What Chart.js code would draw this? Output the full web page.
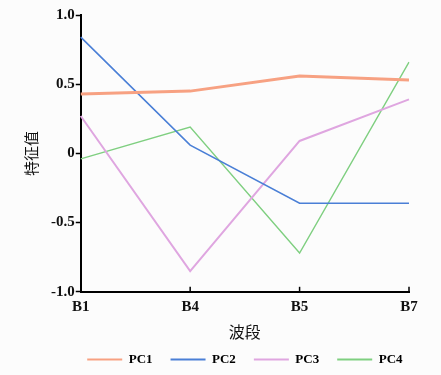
<!DOCTYPE html>
<html><head><meta charset="utf-8">
<script src="https://cdn.jsdelivr.net/npm/chart.js@4"></script>
<style>html,body{margin:0;padding:0;background:#fcfcfc;}#wrap{width:441px;height:375px;}</style>
</head><body><div id="wrap"><canvas id="c" width="441" height="375"></canvas></div>
<script>
const categories = ['B1','B4','B5','B7'];
const seriesNames = ['PC1','PC2','PC3','PC4'];
const pc1 = [0.43, 0.45, 0.56, 0.53];
const pc2 = [0.84, 0.06, -0.36, -0.36];
const pc3 = [0.27, -0.85, 0.09, 0.39];
const pc4 = [-0.04, 0.19, -0.72, 0.66];
const yTickValues = [-1.0, -0.5, 0, 0.5, 1.0];
const yTickLabels = ['-1.0', '-0.5', '0', '0.5', '1.0'];
const xTitle = '波段';
const yTitle = '特征值';

const colors = ['#f7a182', '#4a7fd6', '#dfa6e0', '#7fcf80'];
const widths = [3, 1.6, 2, 1.4];
const serif = '"Liberation Serif", "Times New Roman", serif';
const cjk = '"Noto Sans CJK SC", sans-serif';

const xTicksInside = {
  id: 'xTicksInside',
  afterDatasetsDraw(chart) {
    const x = chart.scales.x, ctx = chart.ctx;
    const yb = chart.chartArea.bottom;
    ctx.save();
    ctx.strokeStyle = '#000';
    ctx.lineWidth = 1.5;
    for (let i = 1; i < categories.length; i++) {
      const px = x.getPixelForTick(i);
      ctx.beginPath();
      ctx.moveTo(px, yb);
      ctx.lineTo(px, yb - 5);
      ctx.stroke();
    }
    ctx.restore();
  }
};

// center the legend under the plot area rather than the whole canvas
const legendShift = {
  id: 'legendShift',
  afterLayout(chart) {
    const lg = chart.legend;
    if (!lg) return;
    const ca = chart.chartArea;
    const d = (ca.left + ca.right) / 2 - (lg.left + lg.right) / 2;
    lg.left += d; lg.right += d;
  }
};

new Chart(document.getElementById('c'), {
  type: 'line',
  data: {
    labels: categories,
    datasets: [pc1, pc2, pc3, pc4].map((d, i) => ({
      label: seriesNames[i],
      data: d,
      borderColor: colors[i],
      backgroundColor: colors[i],
      borderWidth: widths[i],
      pointRadius: 0,
      tension: 0,
      fill: false
    }))
  },
  options: {
    responsive: false,
    animation: false,
    layout: { padding: { left: 22, right: 32, top: 15, bottom: -1 } },
    plugins: {
      legend: {
        position: 'bottom',
        fullSize: true,
        labels: {
          boxWidth: 35,
          boxHeight: 2,
          padding: 18,
          color: '#111',
          font: { family: serif, size: 13, weight: 'bold' },
          generateLabels(chart) {
            return chart.data.datasets.map((ds, i) => ({
              text: ds.label,
              fillStyle: colors[i],
              strokeStyle: colors[i],
              lineWidth: 0,
              datasetIndex: i,
              hidden: false
            }));
          }
        }
      },
      tooltip: { enabled: false }
    },
    scales: {
      x: {
        type: 'category',
        offset: false,
        grid: { display: true, drawOnChartArea: false, drawTicks: false },
        border: { display: true, color: '#000', width: 2 },
        ticks: { color: '#111', padding: 6, maxRotation: 0, font: { family: serif, size: 15, weight: 'bold' } },
        title: { display: true, text: xTitle, color: '#111', padding: { top: 1, bottom: -7 }, font: { family: cjk, size: 16 } }
      },
      y: {
        min: -1, max: 1,
        afterBuildTicks(scale) { scale.ticks = yTickValues.map(v => ({ value: v })); },
        grid: { display: true, drawOnChartArea: false, drawTicks: true, tickLength: 5, tickWidth: 1.5, tickColor: '#000' },
        border: { display: true, color: '#000', width: 2 },
        ticks: {
          color: '#111', padding: 1,
          font: { family: serif, size: 15, weight: 'bold' },
          callback(v) { const k = yTickValues.indexOf(v); return k >= 0 ? yTickLabels[k] : ''; }
        },
        title: { display: true, text: yTitle, color: '#111', padding: { top: 0, bottom: 10 }, font: { family: cjk, size: 15 } }
      }
    }
  },
  plugins: [xTicksInside, legendShift]
});
</script></body></html>
